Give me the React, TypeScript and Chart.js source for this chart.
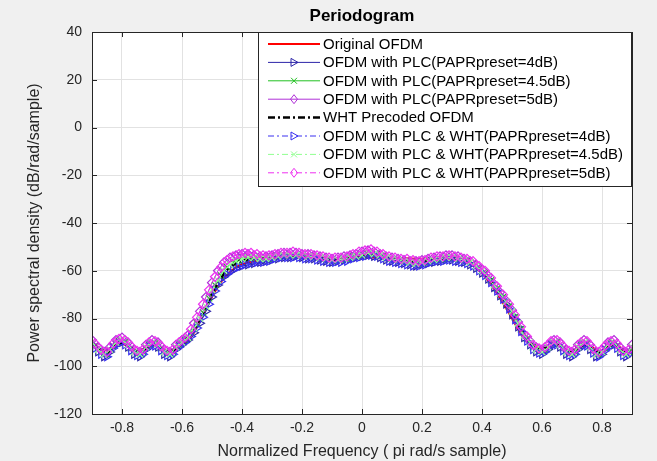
import React, { useEffect, useRef } from 'react';
import { Chart, registerables } from 'chart.js';
Chart.register(...registerables);

const FONT = "'Liberation Sans', Arial, sans-serif";

const chartTitle = 'Periodogram';
const xTitle = 'Normalized Frequency ( pi rad/s sample)';
const yTitle = 'Power spectral density (dB/rad/sample)';

const xTicks = [-0.8, -0.6, -0.4, -0.2, 0, 0.2, 0.4, 0.6, 0.8];
const yTicks = [-120, -100, -80, -60, -40, -20, 0, 20, 40];

const seriesNames = [
  'Original OFDM',
  'OFDM with PLC(PAPRpreset=4dB)',
  'OFDM with PLC(PAPRpreset=4.5dB)',
  'OFDM with PLC(PAPRpreset=5dB)',
  'WHT Precoded OFDM',
  'OFDM with PLC & WHT(PAPRpreset=4dB)',
  'OFDM with PLC & WHT(PAPRpreset=4.5dB)',
  'OFDM with PLC & WHT(PAPRpreset=5dB)',
];

const freqA = [
  -0.9, -0.88, -0.86, -0.84, -0.82, -0.8, -0.78, -0.76, -0.74, -0.72,
  -0.7, -0.68, -0.66, -0.64, -0.62, -0.6, -0.58, -0.56, -0.54, -0.52,
  -0.5, -0.48, -0.46, -0.44, -0.42, -0.4, -0.38, -0.36, -0.34, -0.32,
  -0.3, -0.28, -0.26, -0.24, -0.22, -0.2, -0.18, -0.16, -0.14, -0.12,
  -0.1, -0.08, -0.06, -0.04, -0.02, 0, 0.02, 0.04, 0.06, 0.08,
  0.1, 0.12, 0.14, 0.16, 0.18, 0.2, 0.22, 0.24, 0.26, 0.28,
  0.3, 0.32, 0.34, 0.36, 0.38, 0.4, 0.42, 0.44, 0.46, 0.48,
  0.5, 0.52, 0.54, 0.56, 0.58, 0.6, 0.62, 0.64, 0.66, 0.68,
  0.7, 0.72, 0.74, 0.76, 0.78, 0.8, 0.82, 0.84, 0.86, 0.88,
  0.9,
];

const freqB = [
  -0.89, -0.87, -0.85, -0.83, -0.81, -0.79, -0.77, -0.75, -0.73, -0.71,
  -0.69, -0.67, -0.65, -0.63, -0.61, -0.59, -0.57, -0.55, -0.53, -0.51,
  -0.49, -0.47, -0.45, -0.43, -0.41, -0.39, -0.37, -0.35, -0.33, -0.31,
  -0.29, -0.27, -0.25, -0.23, -0.21, -0.19, -0.17, -0.15, -0.13, -0.11,
  -0.09, -0.07, -0.05, -0.03, -0.01, 0.01, 0.03, 0.05, 0.07, 0.09,
  0.11, 0.13, 0.15, 0.17, 0.19, 0.21, 0.23, 0.25, 0.27, 0.29,
  0.31, 0.33, 0.35, 0.37, 0.39, 0.41, 0.43, 0.45, 0.47, 0.49,
  0.51, 0.53, 0.55, 0.57, 0.59, 0.61, 0.63, 0.65, 0.67, 0.69,
  0.71, 0.73, 0.75, 0.77, 0.79, 0.81, 0.83, 0.85, 0.87, 0.89,
];

// on freqA
const originalOfdm = [
  -91, -92.5, -93.5, -92.5, -91, -90.5, -91.5, -93, -93.5, -92,
  -91, -91.5, -93, -93.5, -92.5, -91, -89.5, -86, -81, -76,
  -71, -66.5, -63, -60.5, -58.5, -57.3, -56.5, -56, -55.6, -55.3,
  -55, -54.8, -54.6, -54.5, -54.4, -54.4, -54.4, -54.5, -54.6, -54.7,
  -54.8, -54.8, -54.8, -54.7, -54.6, -54.5, -54.4, -54.4, -54.4, -54.5,
  -54.6, -54.7, -54.8, -54.9, -55, -55, -55, -55, -55, -55.1,
  -55.3, -55.6, -56.2, -57.2, -58.8, -61, -64, -67.5, -71.5, -75.5,
  -80, -84.5, -88, -90.5, -92, -92.5, -92, -91, -91.5, -93,
  -93.5, -92.5, -91, -91.5, -93, -93.5, -92, -91, -92, -93.5,
  -93,
];

// on freqA
const plc4 = [
  -91, -94, -96, -94, -91, -90, -92, -95, -96, -93,
  -90.5, -92, -95, -96, -93, -91, -89, -86, -82, -77,
  -71, -66, -62.5, -60.5, -59, -58, -57.5, -57, -56.5, -56,
  -55.5, -55, -54.5, -54.5, -54, -54.5, -55, -55, -55.5, -56,
  -56.5, -56, -55.5, -55, -54.5, -54, -53.5, -54, -54.5, -55.5,
  -56, -56.5, -57, -57.5, -58, -57.5, -57, -56.5, -56, -55.5,
  -55.5, -56, -56.5, -57.5, -59, -61, -63.5, -67, -70.5, -74,
  -78.5, -83.5, -88, -91, -94, -95, -93, -91, -92, -95,
  -96, -93, -91, -93, -96, -95, -92, -91, -94, -96,
  -93,
];

// on freqB
const plc45 = [
  -91.5, -94, -95, -91.5, -89.5, -90, -92.5, -94.5, -94, -91,
  -90.5, -92.5, -94.5, -94, -91, -89, -86, -82, -77.5, -71.5,
  -66, -62, -58.5, -56.5, -55.5, -54.5, -54.5, -54.5, -55, -55,
  -54, -53.5, -53.5, -53.5, -53.5, -54, -54, -54.5, -55, -55.5,
  -55.5, -55.5, -55, -54, -53.5, -53, -52.5, -53, -54, -55,
  -55.5, -56, -56, -56.5, -57, -56.5, -55.5, -55, -55, -54.5,
  -55, -55.5, -56, -57, -59, -61, -64, -67.5, -71, -75,
  -79.5, -84.5, -88.5, -92, -93.5, -93, -90.5, -90, -92.5, -94.5,
  -94, -91, -90.5, -93.5, -95, -92.5, -90.5, -91.5, -94.5, -94,
];

// on freqA
const plc5 = [
  -89, -92, -94, -92, -89, -88, -90, -93, -94, -91,
  -89, -90, -93, -94, -91, -89, -87, -82, -77, -71,
  -65, -60, -56.5, -54.5, -53.5, -53, -53, -53.5, -54, -54,
  -53.5, -53, -52.5, -52.5, -52.5, -53, -53, -53.5, -54, -54.5,
  -55, -54.5, -54, -53.5, -53, -52, -51.5, -52, -53, -54,
  -54.5, -55, -55.5, -56, -56, -55.5, -55, -54.5, -54, -53.5,
  -53.5, -54, -55, -56, -57.5, -59.5, -62, -65.5, -69, -72.5,
  -76.5, -81.5, -86.5, -89.5, -92, -93, -91, -89, -90, -93,
  -94, -91, -89, -91, -94, -93, -90, -89, -92, -94,
  -91,
];

// on freqB
const whtOfdm = [
  -91, -93.5, -94.5, -92, -90, -90.5, -92.5, -94, -93.5, -91.5,
  -91, -92.5, -94, -93.5, -91.5, -89.5, -86.5, -82.5, -78, -72.5,
  -67, -63, -59.5, -57.5, -56, -55.5, -55, -55, -55, -55,
  -54.5, -54, -54, -54, -54, -54, -54.5, -54.5, -55, -55.5,
  -55.5, -55.5, -55, -54.5, -54, -53.5, -53, -53.5, -54, -55,
  -55.5, -56, -56, -56.5, -56.5, -56, -55.5, -55.5, -55, -55,
  -55, -55.5, -56, -57, -59, -61.5, -64.5, -68, -71.5, -75.5,
  -80, -84.5, -88.5, -91.5, -93, -92.5, -91, -90.5, -92.5, -94,
  -93.5, -91.5, -91, -93, -94.5, -92.5, -91, -91.5, -94, -94,
];

// on freqB
const plcWht4 = [
  -92.5, -95, -96, -92.5, -90.5, -91, -93.5, -95.5, -95, -92,
  -91.5, -93.5, -95.5, -95, -92, -90, -87.5, -84, -79.5, -74,
  -68.5, -64.5, -61.5, -59.5, -58.5, -57.5, -57, -56.5, -56.5, -56,
  -55, -54.5, -54.5, -54.5, -54.5, -55, -55, -55.5, -56, -56.5,
  -56.5, -56.5, -56, -55, -54.5, -54, -53.5, -54, -55, -56,
  -56.5, -57, -57.5, -58, -58, -57.5, -56.5, -56, -56, -55.5,
  -56, -56.5, -57, -58, -60, -62, -65, -68.5, -72, -76,
  -80.5, -85.5, -89.5, -93, -94.5, -94, -91.5, -91, -93.5, -95.5,
  -95, -92, -91.5, -94.5, -96, -93.5, -91.5, -92.5, -95.5, -95,
];

// on freqA
const plcWht45 = [
  -90, -93, -95, -93, -90, -89, -91, -94, -95, -92,
  -90, -91, -94, -95, -92, -90, -88, -84, -80, -75,
  -68, -64, -60, -57.5, -56, -55, -54.5, -54.5, -55, -55,
  -54.5, -54, -53.5, -53.5, -53.5, -53.5, -54, -54, -54.5, -55,
  -55.5, -55.5, -55, -54.5, -54, -53.5, -52.5, -53, -53.5, -54.5,
  -55, -55.5, -56, -56.5, -57, -56.5, -56, -55.5, -55, -54.5,
  -54.5, -55, -55.5, -56.5, -58, -60, -62.5, -66, -69.5, -73,
  -77, -82, -87, -90, -93, -94, -92, -90, -91, -94,
  -95, -92, -90, -92, -95, -94, -91, -90, -93, -95,
  -92,
];

// on freqB
const plcWht5 = [
  -90.5, -93, -94, -90.5, -88.5, -89, -91.5, -93.5, -93, -90,
  -89.5, -91.5, -93.5, -93, -90, -88, -84.5, -79.5, -74, -68,
  -62.5, -58.5, -55.5, -54, -53, -52.5, -52.5, -53, -53.5, -53.5,
  -53, -52.5, -52.5, -52, -52.5, -53, -53, -53.5, -54, -54.5,
  -54.5, -54.5, -54, -53, -52, -51.5, -51, -52, -53, -54,
  -54.5, -55, -55, -55.5, -56, -55.5, -54.5, -54, -54, -53.5,
  -54, -54.5, -55, -56, -58, -60, -63, -66.5, -70, -74,
  -78.5, -83.5, -87.5, -91, -92.5, -92, -89.5, -89, -91.5, -93.5,
  -93, -90, -89.5, -92.5, -94, -91.5, -89.5, -90.5, -93.5, -93,
];

type Marker = 'none' | 'tri' | 'x' | 'diamond';

interface Spec {
  xs: number[];
  ys: number[];
  color: string;
  dash: number[];
  width: number;
  marker: Marker;
}

const specs: Spec[] = [
  { xs: freqA, ys: originalOfdm, color: '#ff0000', dash: [], width: 2, marker: 'none' },
  { xs: freqA, ys: plc4, color: '#2c24a8', dash: [], width: 1, marker: 'tri' },
  { xs: freqB, ys: plc45, color: '#22c022', dash: [], width: 1, marker: 'x' },
  { xs: freqA, ys: plc5, color: '#b030d8', dash: [], width: 1, marker: 'diamond' },
  { xs: freqB, ys: whtOfdm, color: '#000000', dash: [7, 3, 2, 3], width: 2.5, marker: 'none' },
  { xs: freqB, ys: plcWht4, color: '#3a30f0', dash: [6, 3, 2, 3], width: 1, marker: 'tri' },
  { xs: freqA, ys: plcWht45, color: '#90ff90', dash: [6, 3, 2, 3], width: 1, marker: 'x' },
  { xs: freqB, ys: plcWht5, color: '#ee30f0', dash: [6, 3, 2, 3], width: 1, marker: 'diamond' },
];

function drawMarker(ctx: CanvasRenderingContext2D, kind: Marker, x: number, y: number, color: string) {
  if (kind === 'none') return;
  ctx.save();
  ctx.setLineDash([]);
  ctx.strokeStyle = color;
  ctx.lineWidth = 1;
  ctx.beginPath();
  if (kind === 'tri') {
    ctx.moveTo(x + 4, y);
    ctx.lineTo(x - 3, y - 4);
    ctx.lineTo(x - 3, y + 4);
    ctx.closePath();
  } else if (kind === 'x') {
    ctx.moveTo(x - 3, y - 3);
    ctx.lineTo(x + 3, y + 3);
    ctx.moveTo(x + 3, y - 3);
    ctx.lineTo(x - 3, y + 3);
  } else {
    ctx.moveTo(x, y - 4.5);
    ctx.lineTo(x + 3.5, y);
    ctx.lineTo(x, y + 4.5);
    ctx.lineTo(x - 3.5, y);
    ctx.closePath();
  }
  ctx.stroke();
  ctx.restore();
}

const framePlugin = {
  id: 'matlabFrame',
  beforeDraw(chart: any) {
    const { ctx, chartArea: a, width, height } = chart;
    ctx.save();
    ctx.fillStyle = '#f0f0f0';
    ctx.fillRect(0, 0, width, height);
    ctx.fillStyle = '#ffffff';
    ctx.fillRect(a.left, a.top, a.right - a.left, a.bottom - a.top);
    ctx.restore();
  },
  afterDatasetsDraw(chart: any) {
    const { ctx, chartArea: a, scales } = chart;
    ctx.save();
    ctx.strokeStyle = '#262626';
    ctx.lineWidth = 1;
    ctx.setLineDash([]);
    ctx.beginPath();
    for (const v of xTicks) {
      const px = Math.round(scales.x.getPixelForValue(v)) + 0.5;
      ctx.moveTo(px, a.bottom);
      ctx.lineTo(px, a.bottom - 5);
      ctx.moveTo(px, a.top);
      ctx.lineTo(px, a.top + 5);
    }
    for (const v of yTicks) {
      const py = Math.round(scales.y.getPixelForValue(v)) + 0.5;
      ctx.moveTo(a.left, py);
      ctx.lineTo(a.left + 5, py);
      ctx.moveTo(a.right, py);
      ctx.lineTo(a.right - 5, py);
    }
    ctx.stroke();
    ctx.strokeRect(Math.round(a.left) + 0.5, Math.round(a.top) + 0.5, Math.round(a.right - a.left), Math.round(a.bottom - a.top));

    // title
    ctx.fillStyle = '#000000';
    ctx.font = `bold 17px ${FONT}`;
    ctx.textAlign = 'center';
    ctx.textBaseline = 'middle';
    ctx.fillText(chartTitle, (a.left + a.right) / 2, 16);

    // legend
    const left = a.left + 166;
    const right = a.right - 1;
    const top = a.top;
    const rowH = 18.4;
    const bottom = top + 8 * rowH + 7;
    ctx.fillStyle = '#ffffff';
    ctx.fillRect(left, top, right - left, bottom - top);
    ctx.strokeStyle = '#262626';
    ctx.strokeRect(Math.round(left) + 0.5, Math.round(top) + 0.5, Math.round(right - left), Math.round(bottom - top));
    ctx.font = `14px ${FONT}`;
    let maxW = 0;
    for (const n of seriesNames) maxW = Math.max(maxW, ctx.measureText(n).width);
    const sx = 300 / maxW;
    specs.forEach((s, i) => {
      const y = top + 12 + i * rowH;
      ctx.save();
      ctx.strokeStyle = s.color;
      ctx.lineWidth = s.width;
      ctx.setLineDash(s.dash);
      ctx.beginPath();
      ctx.moveTo(left + 10, y);
      ctx.lineTo(left + 62, y);
      ctx.stroke();
      ctx.restore();
      drawMarker(ctx, s.marker, left + 36, y, s.color);
      ctx.save();
      ctx.fillStyle = '#000000';
      ctx.textAlign = 'left';
      ctx.textBaseline = 'middle';
      ctx.translate(left + 65, y + 1);
      ctx.scale(sx, 1);
      ctx.fillText(seriesNames[i], 0, 0);
      ctx.restore();
    });
    ctx.restore();
  },
};

const pointStyleOf = (m: Marker) => (m === 'tri' ? 'triangle' : m === 'x' ? 'crossRot' : m === 'diamond' ? 'rectRot' : 'circle');

export default function App() {
  const ref = useRef<HTMLCanvasElement>(null);
  useEffect(() => {
    document.body.style.margin = '0';
    const datasets = specs.map((s, i) => ({
      label: seriesNames[i],
      data: s.xs.map((x, j) => ({ x, y: s.ys[j] })),
      borderColor: s.color,
      borderWidth: s.width,
      borderDash: s.dash,
      pointStyle: pointStyleOf(s.marker),
      pointRotation: s.marker === 'tri' ? 90 : 0,
      pointRadius: s.marker === 'none' ? 0 : 4.5,
      pointBorderColor: s.color,
      pointBackgroundColor: 'rgba(0,0,0,0)',
      pointBorderWidth: 1.2,
      tension: 0,
      fill: false,
      order: specs.length - i,
    }));
    const chart = new Chart(ref.current as HTMLCanvasElement, {
      type: 'line',
      data: { datasets },
      plugins: [framePlugin],
      options: {
        animation: false,
        responsive: false,
        devicePixelRatio: 1,
        layout: { padding: { top: 32, right: 25, left: 0, bottom: 0 } },
        plugins: {
          legend: { display: false },
          title: { display: false },
          tooltip: { enabled: false },
        },
        scales: {
          x: {
            type: 'linear',
            min: -0.9,
            max: 0.9,
            afterFit: (s: any) => { s.height = 47; },
            afterBuildTicks: (s: any) => { s.ticks = xTicks.map((v) => ({ value: v })); },
            grid: { color: '#e2e2e2', drawTicks: false, lineWidth: 1 },
            border: { display: false },
            ticks: {
              padding: 6,
              color: '#262626',
              font: { size: 14, family: FONT },
              maxRotation: 0,
              autoSkip: false,
              callback: (v: any) => (Number(v) === 0 ? '0' : Number(v).toFixed(1)),
            },
            title: {
              display: true,
              text: xTitle,
              color: '#262626',
              font: { size: 16, family: FONT },
              padding: { top: 0, bottom: 0 },
            },
          },
          y: {
            type: 'linear',
            min: -120,
            max: 40,
            afterFit: (s: any) => { s.width = 92; },
            afterBuildTicks: (s: any) => { s.ticks = yTicks.map((v) => ({ value: v })); },
            grid: { color: '#e2e2e2', drawTicks: false, lineWidth: 1 },
            border: { display: false },
            ticks: {
              padding: 10,
              color: '#262626',
              font: { size: 14, family: FONT },
              autoSkip: false,
              callback: (v: any) => String(v),
            },
            title: {
              display: true,
              text: yTitle,
              color: '#262626',
              font: { size: 16, family: FONT },
              padding: { top: 25, bottom: 0 },
            },
          },
        },
      } as any,
    });
    return () => chart.destroy();
  }, []);
  return (
    <div style={{ position: 'absolute', left: 0, top: 0, width: 657, height: 461, background: '#f0f0f0' }}>
      <canvas ref={ref} width={657} height={461} style={{ display: 'block', width: 657, height: 461 }} />
    </div>
  );
}
